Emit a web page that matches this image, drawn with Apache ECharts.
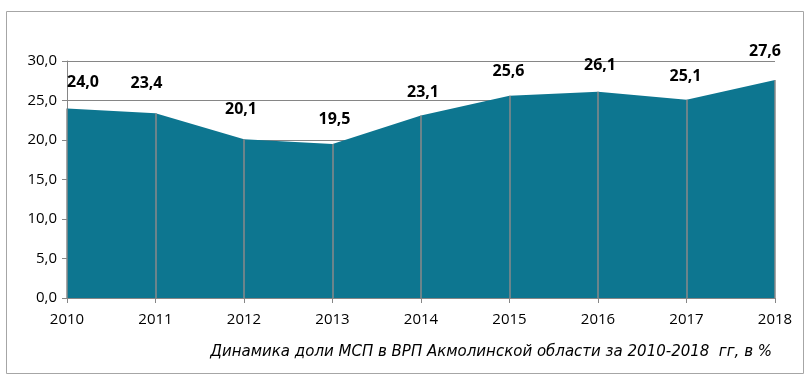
<!DOCTYPE html>
<html><head><meta charset="utf-8">
<script src="https://cdn.jsdelivr.net/npm/echarts@6/dist/echarts.min.js"></script>
<style>html,body{margin:0;padding:0;background:#fff}#c{width:810px;height:386px}</style>
</head><body><div id="c"></div>
<script>
const years = ['2010','2011','2012','2013','2014','2015','2016','2017','2018'];
const share = [24.0, 23.4, 20.1, 19.5, 23.1, 25.6, 26.1, 25.1, 27.6];
const yTicks = [0, 5, 10, 15, 20, 25, 30];
const caption = 'Динамика доли МСП в ВРП Акмолинской области за 2010-2018  гг, в %';

const fmt = v => v.toFixed(1).replace('.', ',');
const labelOffsets = [[16, -4], [-9, -8], [-3, -8], [2, -3], [2, -1], [-1, -2], [2, -4], [-1, -1], [-10, -7]];
const axisColor = '#868686';
const chart = echarts.init(document.getElementById('c'));
chart.setOption({
  animation: false,
  grid: {left: 67, right: 35, top: 61, bottom: 88},
  xAxis: {
    type: 'category', data: years, boundaryGap: false,
    axisLine: {lineStyle: {color: axisColor, width: 1}},
    axisTick: {show: true, length: 5, alignWithLabel: true, lineStyle: {color: axisColor}},
    axisLabel: {color: '#000', fontFamily: 'Open Sans', fontSize: 15, margin: 14},
    splitLine: {show: false}, z: 3
  },
  yAxis: {
    type: 'value', min: yTicks[0], max: yTicks[yTicks.length - 1], interval: yTicks[1] - yTicks[0],
    axisLine: {show: true, lineStyle: {color: axisColor}},
    axisTick: {show: true, length: 5, lineStyle: {color: axisColor}},
    axisLabel: {color: '#000', fontFamily: 'Open Sans', fontSize: 15, margin: 10, formatter: v => fmt(v)},
    splitLine: {show: true, lineStyle: {color: axisColor, width: 1}}
  },
  series: [
    {
      type: 'line', data: share, symbol: 'none', z: 2,
      lineStyle: {width: 0},
      areaStyle: {color: '#0d7690', opacity: 1},
      label: {show: false},
      markLine: {
        silent: true, symbol: 'none', animation: false,
        label: {show: false},
        lineStyle: {color: '#8a8a8a', width: 1.5, type: 'solid'},
        data: share.map((v, i) => [{coord: [i, 0]}, {coord: [i, v]}])
      }
    },
    {
      type: 'bar', data: share.map((v, i) => ({
        value: v,
        label: {offset: labelOffsets[i]}
      })), barWidth: 1, z: 4,
      itemStyle: {color: 'rgba(0,0,0,0)'},
      label: {show: true, position: 'top', distance: 14, color: '#000', fontFamily: 'Open Sans',
        fontWeight: 'bold', fontSize: 16, formatter: p => fmt(p.value)}
    }
  ],
  graphic: [
    {type: 'rect', shape: {x: 6.5, y: 11.5, width: 797, height: 362}, style: {fill: null, stroke: '#a6a6a6', lineWidth: 1}, z: 0},
    {type: 'text', right: 38, top: 345, style: {text: caption, fontFamily: 'DejaVu Sans', fontStyle: 'italic', fontSize: 15, fill: '#000'}}
  ]
});
</script></body></html>
